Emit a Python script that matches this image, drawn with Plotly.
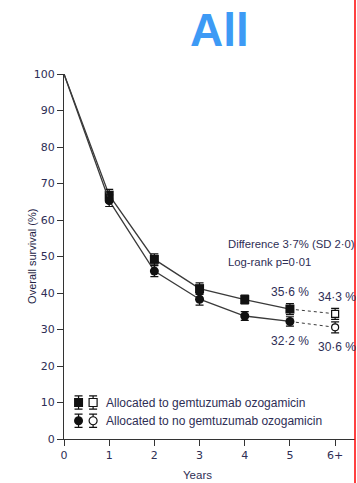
import plotly.graph_objects as go

# Survival estimates (%) by year since randomisation
years = [0, 1, 2, 3, 4, 5, 6]
tick_labels = ["0", "1", "2", "3", "4", "5", "6+"]
go_surv = [100, 66.8, 49.2, 41.2, 38.2, 35.6, 34.3]
go_err = [0, 1.6, 1.5, 1.6, 1.2, 1.5, 1.5]
nogo_surv = [100, 65.3, 46.0, 38.3, 33.7, 32.2, 30.6]
nogo_err = [0, 1.6, 1.5, 1.6, 1.2, 1.3, 1.5]

legend_labels = ["Allocated to gemtuzumab ozogamicin",
                 "Allocated to no gemtuzumab ozogamicin"]

line_col = "#3a3a3a"
txt_col = "#2e2e55"
lab_font = dict(family="Liberation Sans, Arial", size=12, color=txt_col)

fig = go.Figure()

def add_arm(vals, errs, symbol, open_symbol):
    # solid curve up to year 5, dotted extension to 6+
    fig.add_trace(go.Scatter(x=years[:6], y=vals[:6], mode="lines",
                             line=dict(color=line_col, width=1.3), showlegend=False))
    fig.add_trace(go.Scatter(x=years[5:], y=vals[5:], mode="lines",
                             line=dict(color=line_col, width=1, dash="dot"), showlegend=False))
    fig.add_trace(go.Scatter(x=years[1:6], y=vals[1:6], mode="markers",
                             marker=dict(symbol=symbol, size=9, color="#111111"),
                             error_y=dict(type="data", array=errs[1:6], color="#111111",
                                          thickness=1.2, width=4),
                             showlegend=False))
    fig.add_trace(go.Scatter(x=years[6:], y=vals[6:], mode="markers",
                             marker=dict(symbol=open_symbol, size=7, color="white",
                                         line=dict(color="#111111", width=1.2)),
                             error_y=dict(type="data", array=errs[6:], color="#111111",
                                          thickness=1.2, width=4),
                             showlegend=False))

add_arm(go_surv, go_err, "square", "square")
add_arm(nogo_surv, nogo_err, "circle", "circle")

# Legend drawn on an overlay axis in 0-1 units
leg_y = [0.1, 0.05]
for yy, sym, txt in zip(leg_y, ["square", "circle"], legend_labels):
    fig.add_trace(go.Scatter(x=[0.05], y=[yy], mode="markers", xaxis="x2", yaxis="y2",
                             marker=dict(symbol=sym, size=9, color="#111111"),
                             error_y=dict(type="constant", value=0.018, color="#111111",
                                          thickness=1.2, width=4),
                             showlegend=False))
    fig.add_trace(go.Scatter(x=[0.1], y=[yy], mode="markers", xaxis="x2", yaxis="y2",
                             marker=dict(symbol=sym, size=8, color="white",
                                         line=dict(color="#111111", width=1.2)),
                             error_y=dict(type="constant", value=0.018, color="#111111",
                                          thickness=1.2, width=4),
                             showlegend=False))
    fig.add_annotation(x=0.138, y=yy, xref="x2", yref="y2", text=txt, showarrow=False,
                       xanchor="left", yanchor="middle", font=lab_font)

# Value labels
def pct(v):
    return f"{v:.1f} %".replace(".", "·")

fig.add_annotation(x=years[5], y=go_surv[5], text=pct(go_surv[5]),
                   showarrow=False, yshift=17, font=lab_font)
fig.add_annotation(x=years[6], y=go_surv[6], text=pct(go_surv[6]),
                   showarrow=False, xshift=2, yshift=17, font=lab_font)
fig.add_annotation(x=years[5], y=nogo_surv[5], text=pct(nogo_surv[5]),
                   showarrow=False, yshift=-20, font=lab_font)
fig.add_annotation(x=years[6], y=nogo_surv[6], text=pct(nogo_surv[6]),
                   showarrow=False, xshift=2, yshift=-20, font=lab_font)

note_font = dict(family="Liberation Sans, Arial", size=11.3, color=txt_col)
fig.add_annotation(x=3.58, y=53.5, text="Difference 3·7% (SD 2·0)", showarrow=False,
                   xanchor="left", yanchor="middle", font=note_font)
fig.add_annotation(x=3.58, y=48.5, text="Log-rank p=0·01", showarrow=False,
                   xanchor="left", yanchor="middle", font=note_font)

# Title and axis captions
fig.add_annotation(x=0.533, y=1.12, xref="paper", yref="paper", yanchor="middle",
                   xanchor="center", text="<b>All</b>", showarrow=False,
                   font=dict(family="Liberation Sans, Arial", size=46, color="#3d9af5"))
fig.add_annotation(x=2.95, y=-0.0986, xref="x", yref="paper", text="Years", showarrow=False,
                   yanchor="middle", font=dict(family="Liberation Sans, Arial", size=11.5,
                                               color=txt_col))
fig.add_annotation(x=-0.112, y=0.5, xref="paper", yref="paper", text="Overall survival (%)",
                   textangle=-90, showarrow=False, xanchor="center", yanchor="middle",
                   font=dict(family="Liberation Sans, Arial", size=11, color="#222244"))

fig.add_shape(type="line", xref="paper", yref="paper", x0=1.0, x1=1.0, y0=-0.3, y1=1.5,
              line=dict(color="#ff0000", width=1.5))

fig.update_layout(
    width=357, height=483,
    margin=dict(l=64, r=2, t=74, b=44),
    paper_bgcolor="white", plot_bgcolor="white",
    xaxis=dict(range=[0, 6.44], tickvals=years, ticktext=tick_labels, showgrid=False,
               zeroline=False, showline=True, linecolor="#333333", linewidth=1.3,
               ticks="outside", ticklen=6, tickcolor="#333333", tickwidth=1.3,
               tickfont=dict(family="DejaVu Sans", size=11, color=txt_col)),
    yaxis=dict(range=[0, 100], tickvals=list(range(0, 101, 10)), showgrid=False,
               zeroline=False, showline=True, linecolor="#333333", linewidth=1.3,
               ticks="outside", ticklen=6, tickcolor="#333333", tickwidth=1.3,
               tickfont=dict(family="DejaVu Sans", size=11, color=txt_col)),
    xaxis2=dict(range=[0, 1], overlaying="x", visible=False, fixedrange=True),
    yaxis2=dict(range=[0, 1], overlaying="y", visible=False, fixedrange=True),
    showlegend=False,
)

fig.write_html("out.html")
